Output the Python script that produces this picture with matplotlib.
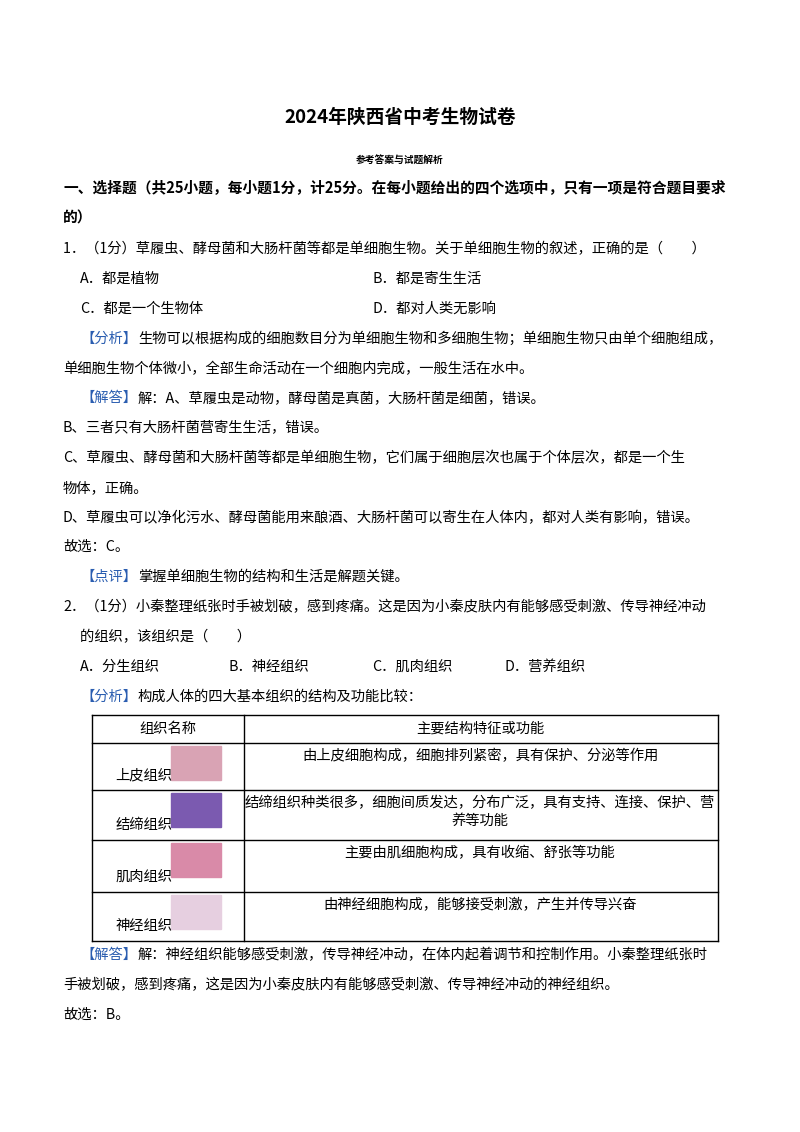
import matplotlib
matplotlib.use("Agg")
import matplotlib.pyplot as plt
from matplotlib.patches import Rectangle

plt.rcParams['font.family'] = ['Noto Sans CJK SC', 'DejaVu Sans']

W, H = 800, 1132
BLUE = '#2a5db0'

title = "2024年陕西省中考生物试卷"
subtitle = "参考答案与试题解析"
section = ["一、选择题（共25小题，每小题1分，计25分。在每小题给出的四个选项中，只有一项是符合题目要求",
           "的）"]

# (x, y, text, tag) tag: None plain, or a blue bracket label prefix
body = [
    (63, 249, "1．（1分）草履虫、酵母菌和大肠杆菌等都是单细胞生物。关于单细胞生物的叙述，正确的是（　　）", None),
    (80, 279, "A．都是植物", None), (372, 279, "B．都是寄生生活", None),
    (80, 309, "C．都是一个生物体", None), (372, 309, "D．都对人类无影响", None),
    (80, 339, "生物可以根据构成的细胞数目分为单细胞生物和多细胞生物；单细胞生物只由单个细胞组成，", "【分析】"),
    (63, 369, "单细胞生物个体微小，全部生命活动在一个细胞内完成，一般生活在水中。", None),
    (80, 398, "解：A、草履虫是动物，酵母菌是真菌，大肠杆菌是细菌，错误。", "【解答】"),
    (63, 428, "B、三者只有大肠杆菌营寄生生活，错误。", None),
    (63, 458, "C、草履虫、酵母菌和大肠杆菌等都是单细胞生物，它们属于细胞层次也属于个体层次，都是一个生", None),
    (63, 488, "物体，正确。", None),
    (63, 518, "D、草履虫可以净化污水、酵母菌能用来酿酒、大肠杆菌可以寄生在人体内，都对人类有影响，错误。", None),
    (63, 547, "故选：C。", None),
    (80, 577, "掌握单细胞生物的结构和生活是解题关键。", "【点评】"),
    (63, 607, "2．（1分）小秦整理纸张时手被划破，感到疼痛。这是因为小秦皮肤内有能够感受刺激、传导神经冲动", None),
    (80, 637, "的组织，该组织是（　　）", None),
    (80, 667, "A．分生组织", None), (228, 667, "B．神经组织", None),
    (372, 667, "C．肌肉组织", None), (505, 667, "D．营养组织", None),
    (80, 697, "构成人体的四大基本组织的结构及功能比较：", "【分析】"),
    (80, 955, "解：神经组织能够感受刺激，传导神经冲动，在体内起着调节和控制作用。小秦整理纸张时", "【解答】"),
    (63, 985, "手被划破，感到疼痛，这是因为小秦皮肤内有能够感受刺激、传导神经冲动的神经组织。", None),
    (63, 1015, "故选：B。", None),
]

# table
row_edges = [715, 743, 790, 840, 892, 941]
col_x = [92, 244, 718]
header = ["组织名称", "主要结构特征或功能"]
tissue = ["上皮组织", "结缔组织", "肌肉组织", "神经组织"]
func = [["由上皮细胞构成，细胞排列紧密，具有保护、分泌等作用"],
        ["结缔组织种类很多，细胞间质发达，分布广泛，具有支持、连接、保护、营", "养等功能"],
        ["主要由肌细胞构成，具有收缩、舒张等功能"],
        ["由神经细胞构成，能够接受刺激，产生并传导兴奋"]]
img_colors = ['#d9a3b4', '#7b5ab0', '#d98aa8', '#e6cfe0']

fig = plt.figure(figsize=(8, 11.32), dpi=100)
ax = fig.add_axes([0, 0, 1, 1])
ax.set_xlim(0, W)
ax.set_ylim(H, 0)
ax.axis('off')

ax.text(400, 117, title, ha='center', va='center', fontsize=13.5, fontweight='bold')
ax.text(400, 160, subtitle, ha='center', va='center', fontsize=7, fontweight='bold')
ax.text(63, 188, section[0], va='center', fontsize=10.6, fontweight='bold')
ax.text(63, 218, section[1], va='center', fontsize=10.6, fontweight='bold')

fs = 10.3
for x, y, t, tag in body:
    if tag:
        ax.text(x, y, tag, va='center', fontsize=fs, color=BLUE)
        ax.text(x + 58, y, t, va='center', fontsize=fs)
    else:
        ax.text(x, y, t, va='center', fontsize=fs)

# table grid
for y in row_edges:
    ax.plot([col_x[0], col_x[2]], [y, y], color='black', lw=1)
for x in col_x:
    ax.plot([x, x], [row_edges[0], row_edges[-1]], color='black', lw=1)
ax.text(168, 729, header[0], ha='center', va='center', fontsize=fs)
ax.text(480, 729, header[1], ha='center', va='center', fontsize=fs)
for i, (name, lines, c) in enumerate(zip(tissue, func, img_colors)):
    top, bot = row_edges[i + 1], row_edges[i + 2]
    ax.text(144, bot - 15, name, ha='center', va='center', fontsize=fs)
    ax.add_patch(Rectangle((171, top + 3), 50, 34, color=c))
    for j, ln in enumerate(lines):
        ax.text(480, top + 13 + j * 18, ln, ha='center', va='center', fontsize=fs)

fig.savefig("out.png", dpi=100)
